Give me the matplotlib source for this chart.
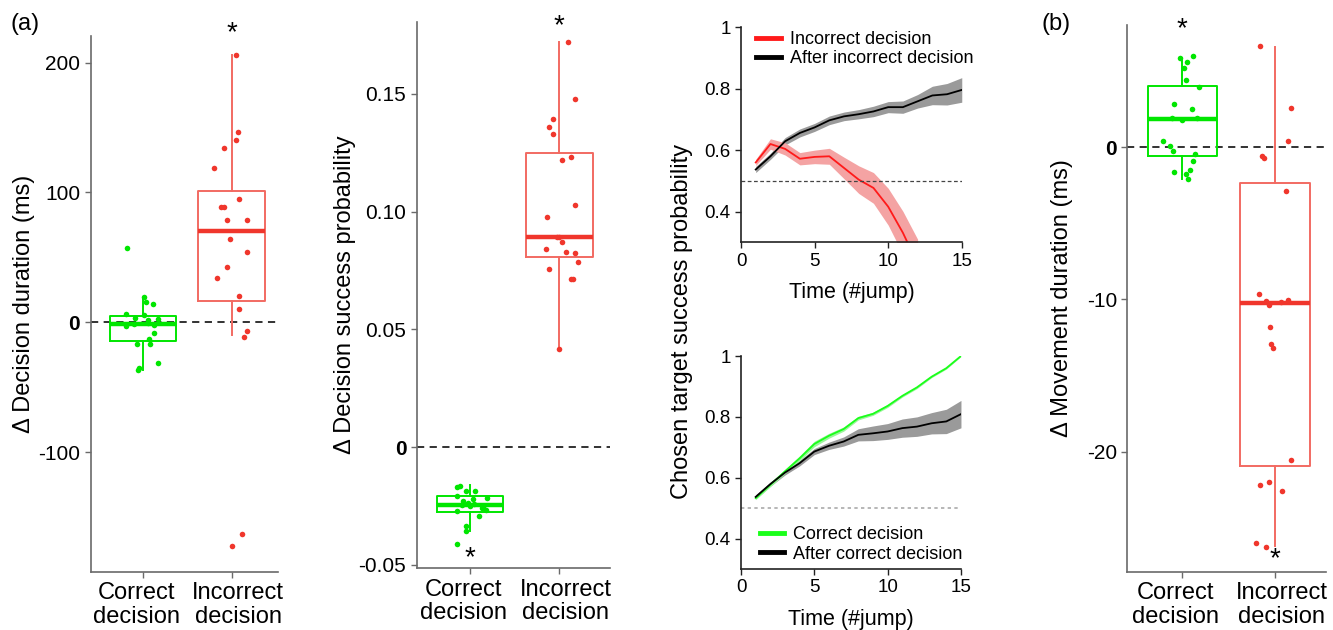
import matplotlib
matplotlib.use('Agg')
import matplotlib.pyplot as plt
import matplotlib.transforms as mtransforms
import numpy as np

plt.rcParams['font.family'] = ['Liberation Sans', 'DejaVu Sans']

GREEN = '#00e600'
RED = '#f0362c'
RED_BOX = '#f26a62'
AXIS_GREY = '#6a6a6a'

groups = ['Correct\ndecision', 'Incorrect\ndecision']

# (a) decision duration (ms)
dur_correct = [57.5, 19.2, 15.4, 14.1, 6.7, 5.9, 3.4, 2.9, 1.6, -0.5, -1.0, -2.0,
               -3.0, -7.9, -12.5, -16.4, -16.4, -31.0, -35.1, -36.9]
dur_correct_jit = [-0.18, 0.01, 0.03, 0.11, -0.20, 0.01, -0.09, 0.17, 0.06, 0.05, -0.10, 0.12,
                   -0.20, 0.12, 0.07, -0.07, 0.08, 0.17, -0.05, -0.06]
dur_incorrect = [205.7, 146.9, 140.3, 134.4, 119.0, 94.9, 89.0, 89.0, 78.8, 78.8, 64.2, 54.4,
                 42.8, 34.4, 20.0, 10.3, -6.9, -11.0, -163.0, -172.5]
dur_incorrect_jit = [0.05, 0.07, 0.05, -0.09, -0.20, 0.08, -0.12, -0.08, -0.05, 0.18, -0.02, 0.17,
                     -0.05, -0.16, 0.09, 0.09, 0.18, 0.14, 0.12, 0.0]
# box stats: whislo, q1, median, q3, whishi
dur_box = [[-36.5, -14.3, -1.2, 4.6, 19.2], [-10.0, 16.7, 70.5, 100.8, 205.7]]

# (a) decision success probability
prob_correct = [-0.0170, -0.0163, -0.0188, -0.0184, -0.0208, -0.0221, -0.0217, -0.0246, -0.0255,
                -0.0265, -0.0272, -0.0292, -0.0334, -0.0355, -0.0411, -0.0235, -0.0242, -0.0258,
                -0.0250, -0.0228]
prob_correct_jit = [-0.15, -0.11, -0.05, 0.06, -0.14, 0.03, 0.19, -0.09, 0.15, 0.18, -0.14, 0.10,
                    -0.05, -0.05, -0.15, -0.02, 0.04, 0.13, 0.0, -0.08]
prob_incorrect = [0.172, 0.148, 0.1394, 0.1361, 0.1329, 0.1231, 0.122, 0.103, 0.0976, 0.0894,
                  0.087, 0.0842, 0.083, 0.0824, 0.0785, 0.0758, 0.0715, 0.0715, 0.0419, 0.0893]
prob_incorrect_jit = [0.10, 0.18, -0.07, -0.11, -0.07, 0.13, 0.03, 0.18, -0.14, -0.03, 0.03, -0.15,
                      0.07, 0.18, 0.21, -0.12, 0.13, 0.15, 0.0, 0.0]
prob_box = [[-0.0357, -0.0275, -0.0246, -0.0208, -0.0161], [0.0419, 0.0809, 0.0893, 0.1251, 0.1720]]

# (a) chosen target success probability over time
jumps = np.arange(1, 16)
after_incorrect = [0.537, 0.580, 0.629, 0.656, 0.674, 0.697, 0.710, 0.717, 0.726, 0.740, 0.740,
                   0.759, 0.778, 0.782, 0.796]
after_incorrect_sem = [0.01, 0.01, 0.012, 0.013, 0.013, 0.014, 0.014, 0.015, 0.017, 0.018, 0.02,
                       0.022, 0.03, 0.035, 0.04]
incorrect_jumps = np.arange(1, 13)
incorrect = [0.560, 0.620, 0.604, 0.572, 0.578, 0.580, 0.542, 0.504, 0.477, 0.416, 0.331, 0.23]
incorrect_sem = [0.01, 0.017, 0.02, 0.02, 0.022, 0.026, 0.035, 0.045, 0.05, 0.06, 0.07, 0.08]
correct = [0.533, 0.577, 0.621, 0.664, 0.711, 0.738, 0.760, 0.796, 0.810, 0.836, 0.869, 0.897,
           0.932, 0.960, 1.0]
correct_sem = [0.005, 0.006, 0.007, 0.008, 0.009, 0.008, 0.007, 0.006, 0.005, 0.005, 0.004, 0.004,
               0.003, 0.003, 0.002]
after_correct = [0.537, 0.579, 0.617, 0.648, 0.686, 0.705, 0.719, 0.741, 0.746, 0.752, 0.763,
                 0.768, 0.779, 0.785, 0.809]
after_correct_sem = [0.007, 0.007, 0.008, 0.009, 0.01, 0.012, 0.015, 0.02, 0.024, 0.026, 0.03,
                     0.032, 0.035, 0.04, 0.045]

# (b) movement duration (ms)
mov_correct = [5.85, 5.98, 5.60, 5.19, 4.44, 3.94, 2.87, 2.52, 1.90, 1.90, 0.44, 0.11, -0.24,
               -0.42, -0.90, -1.49, -1.64, -1.73, -2.08, 1.8]
mov_correct_jit = [-0.02, 0.12, 0.05, 0.02, 0.04, 0.18, -0.09, 0.10, -0.11, 0.16, -0.21, -0.13,
                   -0.10, 0.14, 0.12, 0.08, -0.09, 0.04, 0.06, 0.0]
mov_incorrect = [6.63, 2.60, 0.41, -0.55, -0.68, -2.85, -9.62, -10.1, -10.36, -10.14, -10.01,
                 -11.79, -12.94, -13.21, -20.57, -22.23, -21.99, -22.58, -26.0, -26.26]
mov_incorrect_jit = [-0.16, 0.17, 0.14, -0.14, -0.12, 0.12, -0.17, -0.10, -0.06, 0.06, 0.14,
                     -0.05, -0.04, -0.02, 0.17, -0.16, -0.06, 0.08, -0.20, -0.10]
mov_box = [[-2.08, -0.55, 1.84, 4.03, 5.85], [-26.24, -20.92, -10.23, -2.35, 6.59]]


def style_axis(ax, color=AXIS_GREY):
    for side in ['top', 'right']:
        ax.spines[side].set_visible(False)
    for side in ['left', 'bottom']:
        ax.spines[side].set_color(color)
        ax.spines[side].set_linewidth(1.2)
    ax.tick_params(colors=color, labelcolor='black', length=4, width=1.0, labelsize=15)


def box_panel(ax, values, jitters, box, ylim, xlim, yticks, ylabels, ylabel):
    stats = []
    for lo, q1, med, q3, hi in box:
        stats.append(dict(whislo=lo, q1=q1, med=med, q3=q3, whishi=hi, fliers=[]))
    colors = [(GREEN, GREEN), (RED_BOX, RED)]
    for i, st in enumerate(stats):
        edge, dot = colors[i]
        ax.bxp([st], positions=[i + 1], widths=0.75, showcaps=False, showfliers=False,
               boxprops=dict(color=edge, linewidth=1.4),
               whiskerprops=dict(color=edge, linewidth=1.4),
               medianprops=dict(color=dot, linewidth=3.2))
        ax.scatter(i + 1 + np.array(jitters[i]), values[i], s=16, color=dot, zorder=3,
                   linewidths=0)
    ax.axhline(0, color='#222222', lw=1.3, ls=(0, (4, 3)), zorder=1)
    ax.set_xlim(*xlim)
    ax.set_ylim(*ylim)
    ax.set_xticks([1, 2])
    ax.set_yticks(yticks)
    ax.set_yticklabels(ylabels)
    ax.set_ylabel(ylabel, fontsize=17)
    style_axis(ax)
    ax.set_xticklabels(groups, fontsize=17, linespacing=1.1)
    # the two category labels sit a little apart from their ticks
    for lab, dx in zip(ax.get_xticklabels(), [-0.065, 0.065]):
        shift = mtransforms.ScaledTranslation(dx, 0, ax.figure.dpi_scale_trans)
        lab.set_transform(lab.get_transform() + shift)
    for lab in ax.get_yticklabels():
        if lab.get_text() == '0':
            lab.set_fontweight('bold')


fig = plt.figure(figsize=(13.33, 6.3), dpi=100)

ax1 = fig.add_axes([0.068, 0.0925, 0.1406, 0.8504])
box_panel(ax1, [dur_correct, dur_incorrect], [dur_correct_jit, dur_incorrect_jit], dur_box,
          (-192, 220.5), (0.405, 2.527), [-100, 0, 100, 200], ['-100', '0', '100', '200'],
          'Δ Decision duration (ms)')
ax1.text(2, 223, '*', ha='center', va='center', fontsize=20, clip_on=False)
ax1.yaxis.labelpad = 2

ax2 = fig.add_axes([0.3126, 0.098, 0.145, 0.8676])
box_panel(ax2, [prob_correct, prob_incorrect], [prob_correct_jit, prob_incorrect_jit], prob_box,
          (-0.0514, 0.1807), (0.403, 2.568), [-0.05, 0, 0.05, 0.10, 0.15],
          ['-0.05', '0', '0.05', '0.10', '0.15'], 'Δ Decision success probability')
ax2.text(1, -0.0472, '*', ha='center', va='center', fontsize=20, clip_on=False)
ax2.text(2, 0.1786, '*', ha='center', va='center', fontsize=20, clip_on=False)
ax2.yaxis.labelpad = 2

ax4 = fig.add_axes([0.8457, 0.0925, 0.149, 0.8678])
box_panel(ax4, [mov_correct, mov_incorrect], [mov_correct_jit, mov_incorrect_jit], mov_box,
          (-27.9, 8.04), (0.407, 2.55), [-20, -10, 0], ['-20', '-10', '0'],
          'Δ Movement duration (ms)')
ax4.text(1, 7.75, '*', ha='center', va='center', fontsize=20, clip_on=False)
ax4.text(2, -27.1, '*', ha='center', va='center', fontsize=20, clip_on=False)
ax4.yaxis.labelpad = 10

# time course panels
ax3a = fig.add_axes([0.5559, 0.6154, 0.1656, 0.3413])
ax3a.fill_between(jumps, np.array(after_incorrect) - after_incorrect_sem,
                  np.array(after_incorrect) + after_incorrect_sem, color='#9a9a9a', lw=0)
ax3a.fill_between(incorrect_jumps, np.array(incorrect) - incorrect_sem,
                  np.array(incorrect) + incorrect_sem, color='#f4a3a3', lw=0)
ax3a.plot(incorrect_jumps, incorrect, color='#ff1a1a', lw=1.3, label='Incorrect decision')
ax3a.plot(jumps, after_incorrect, color='black', lw=1.3, label='After incorrect decision')
ax3a.axhline(0.5, color='#444444', lw=0.9, ls=(0, (3, 2)))

ax3b = fig.add_axes([0.5559, 0.0968, 0.165, 0.3381])
ax3b.fill_between(jumps, np.array(after_correct) - after_correct_sem,
                  np.array(after_correct) + after_correct_sem, color='#9a9a9a', lw=0)
ax3b.fill_between(jumps, np.array(correct) - correct_sem,
                  np.array(correct) + correct_sem, color='#9cf59c', lw=0)
ax3b.plot(jumps, correct, color='#1aff1a', lw=1.3, label='Correct decision')
ax3b.plot(jumps, after_correct, color='black', lw=1.3, label='After correct decision')
ax3b.axhline(0.5, color='#aaaaaa', lw=1.2, ls=(0, (2, 2)))

for ax, loc, anchor in [(ax3a, 'upper left', (0.07, 0.982)), (ax3b, 'lower left', (0.085, 0.03))]:
    ax.set_xlim(0, 15)
    ax.set_ylim(0.3, 1.0)
    ax.set_xticks([0, 5, 10, 15])
    ax.set_yticks([0.4, 0.6, 0.8, 1.0])
    ax.set_yticklabels(['0.4', '0.6', '0.8', '1'])
    ax.set_xlabel('Time (#jump)', fontsize=15.5, labelpad=9)
    style_axis(ax, color='#222222')
    ax.tick_params(labelsize=13.5)
    leg = ax.legend(loc=loc, bbox_to_anchor=anchor, frameon=False, fontsize=13,
                    handlelength=1.35, handletextpad=0.5, labelspacing=0.12,
                    borderaxespad=0, borderpad=0)
    for line in leg.get_lines():
        line.set_linewidth(3.5)

fig.text(0.512, 0.49, 'Chosen target success probability', rotation=90, ha='center',
         va='center', fontsize=17)

fig.text(0.008, 0.962, '(a)', fontsize=17, va='center')
fig.text(0.781, 0.962, '(b)', fontsize=17, va='center')

fig.savefig('out.png', dpi=100)
